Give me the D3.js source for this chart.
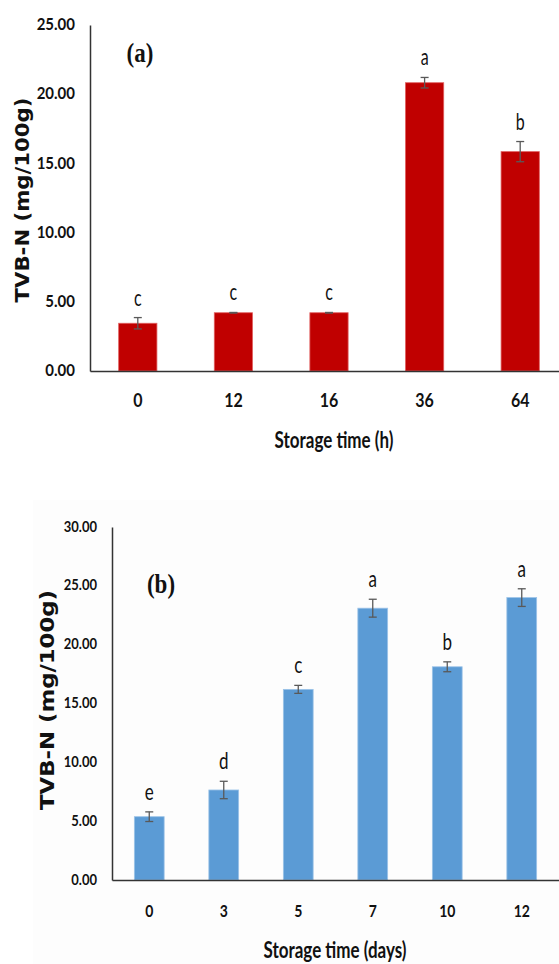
<!DOCTYPE html>
<html>
<head>
    <meta charset="utf-8" />
    <script src="https://cdn.jsdelivr.net/npm/d3@7"></script>
    <style>
        body { margin: 0; background: #fff; }
        text { font-family: Lato, "Open Sans", sans-serif; fill: #111; }
    </style>
</head>
<body>
</body>

<script>
    // panel (a): storage in hours
    var hoursCats = ["0", "12", "16", "36", "64"];
    var hoursMeans = [3.45, 4.21, 4.21, 20.83, 15.85];
    var hoursErr = [0.41, 0.02, 0.02, 0.38, 0.73];
    var hoursLetters = ["c", "c", "c", "a", "b"];
    var hoursTicks = [0, 5, 10, 15, 20, 25];

    // panel (b): storage in days
    var daysCats = ["0", "3", "5", "7", "10", "12"];
    var daysMeans = [5.38, 7.65, 16.2, 23.1, 18.12, 24.0];
    var daysErr = [0.41, 0.74, 0.34, 0.76, 0.42, 0.75];
    var daysLetters = ["e", "d", "c", "a", "b", "a"];
    var daysTicks = [0, 5, 10, 15, 20, 25, 30];

    var svg = d3.select("body").append("svg")
                .attr("width", 559)
                .attr("height", 964);

    // very faint background of the second picture
    svg.append("rect")
       .attr("x", 33).attr("y", 500)
       .attr("width", 526).attr("height", 464)
       .attr("fill", "#fdfdfd");

    // the source picture is stretched upward, so text is drawn taller than wide
    function tallText(x, y, k) {
        return "translate(" + x + "," + y + ") scale(1," + k + ")";
    }

    function drawPanel(p) {
        var x = d3.scaleBand()
                  .domain(p.cats)
                  .range([p.left, p.right])
                  .paddingInner(0.6)
                  .paddingOuter(0.3);
        var y = d3.scaleLinear()
                  .domain([0, p.max])
                  .range([p.bottom, p.top]);

        var rows = p.cats.map(function (c, i) {
            return { cat: c, mean: p.means[i], err: p.errs[i], letter: p.letters[i] };
        });
        var mid = function (d) { return x(d.cat) + x.bandwidth() / 2; };

        // bars
        svg.append("g").selectAll("rect")
           .data(rows)
           .enter()
           .append("rect")
           .attr("x", function (d) { return x(d.cat); })
           .attr("y", function (d) { return y(d.mean); })
           .attr("width", x.bandwidth())
           .attr("height", function (d) { return y(0) - y(d.mean); })
           .attr("fill", p.color)
           .attr("stroke", p.edge)
           .attr("stroke-width", 0.8);

        // error bars
        var eb = svg.append("g").selectAll("g")
                    .data(rows)
                    .enter()
                    .append("g")
                    .attr("stroke", "#595959")
                    .attr("stroke-width", 1.3);
        eb.append("line")
          .attr("x1", mid).attr("x2", mid)
          .attr("y1", function (d) { return y(d.mean - d.err); })
          .attr("y2", function (d) { return y(d.mean + d.err); });
        eb.append("line")
          .attr("x1", function (d) { return mid(d) - 4; })
          .attr("x2", function (d) { return mid(d) + 4; })
          .attr("y1", function (d) { return y(d.mean + d.err); })
          .attr("y2", function (d) { return y(d.mean + d.err); });
        eb.append("line")
          .attr("x1", function (d) { return mid(d) - 4; })
          .attr("x2", function (d) { return mid(d) + 4; })
          .attr("y1", function (d) { return y(d.mean - d.err); })
          .attr("y2", function (d) { return y(d.mean - d.err); });

        // significance letters
        svg.append("g").selectAll("text")
           .data(rows)
           .enter()
           .append("text")
           .attr("transform", function (d) { return tallText(mid(d), y(d.mean + d.err) - 12, 1.4); })
           .attr("text-anchor", "middle")
           .style("font-size", p.letterSize + "px")
           .text(function (d) { return d.letter; });

        // axes
        var yAxis = svg.append("g")
                       .attr("transform", "translate(" + p.left + ",0)")
                       .call(d3.axisLeft(y)
                               .tickValues(p.ticks)
                               .tickSize(0)
                               .tickPadding(15)
                               .tickFormat(d3.format(".2f")));
        yAxis.selectAll("text")
             .attr("transform", "scale(1,1.12)")
             .attr("dy", "0.28em")
             .style("font-size", p.tickSize + "px")
             .style("font-weight", "bold")
             .style("font-family", "Lato, sans-serif")
             .attr("fill", "#111");
        yAxis.select(".domain").attr("stroke", "#333").attr("stroke-width", 1.5);

        var xAxis = svg.append("g")
                       .attr("transform", "translate(0," + p.bottom + ")")
                       .call(d3.axisBottom(x)
                               .tickSize(0)
                               .tickPadding(p.xPad));
        xAxis.selectAll("text")
             .attr("transform", "scale(1,1.2)")
             .style("font-size", (p.tickSize + 1) + "px")
             .style("font-weight", "bold")
             .style("font-family", "Lato, sans-serif")
             .attr("fill", "#111");
        xAxis.select(".domain").attr("stroke", "#333").attr("stroke-width", 1.5);

        // titles
        svg.append("text")
           .attr("transform", tallText(p.xTitleX, p.xTitleY, 1.3))
           .attr("text-anchor", "middle")
           .style("font-size", "17px")
           .style("font-weight", "bold")
           .text(p.xTitle);

        svg.append("text")
           .attr("transform", "translate(" + p.yTitleX + "," + p.yTitleY + ") rotate(-90)")
           .attr("text-anchor", "middle")
           .attr("textLength", p.yTitleLen)
           .attr("lengthAdjust", "spacingAndGlyphs")
           .style("font-family", "'DejaVu Sans', sans-serif")
           .style("font-size", "19px")
           .style("font-weight", "bold")
           .text("TVB-N (mg/100g)");

        svg.append("text")
           .attr("transform", tallText(p.tagX, p.tagY, 1.2))
           .attr("text-anchor", "middle")
           .style("font-family", "'Liberation Serif', serif")
           .style("font-size", "23px")
           .style("font-weight", "bold")
           .text(p.tag);
    }

    drawPanel({
        cats: hoursCats, means: hoursMeans, errs: hoursErr, letters: hoursLetters,
        ticks: hoursTicks, max: 25, color: "#C00000", edge: "#e06060",
        left: 90, right: 568, top: 25, bottom: 371,
        tickSize: 15, letterSize: 16, xPad: 19,
        xTitle: "Storage time (h)", xTitleX: 334, xTitleY: 448,
        yTitleX: 29, yTitleY: 200, yTitleLen: 205,
        tag: "(a)", tagX: 140, tagY: 62
    });

    drawPanel({
        cats: daysCats, means: daysMeans, errs: daysErr, letters: daysLetters,
        ticks: daysTicks, max: 30, color: "#5B9BD5", edge: "#9cc3e8",
        left: 112, right: 559, top: 527, bottom: 880,
        tickSize: 13, letterSize: 17, xPad: 21,
        xTitle: "Storage time (days)", xTitleX: 335, xTitleY: 958,
        yTitleX: 54, yTitleY: 700, yTitleLen: 220,
        tag: "(b)", tagX: 161, tagY: 593
    });
</script>

</html>
